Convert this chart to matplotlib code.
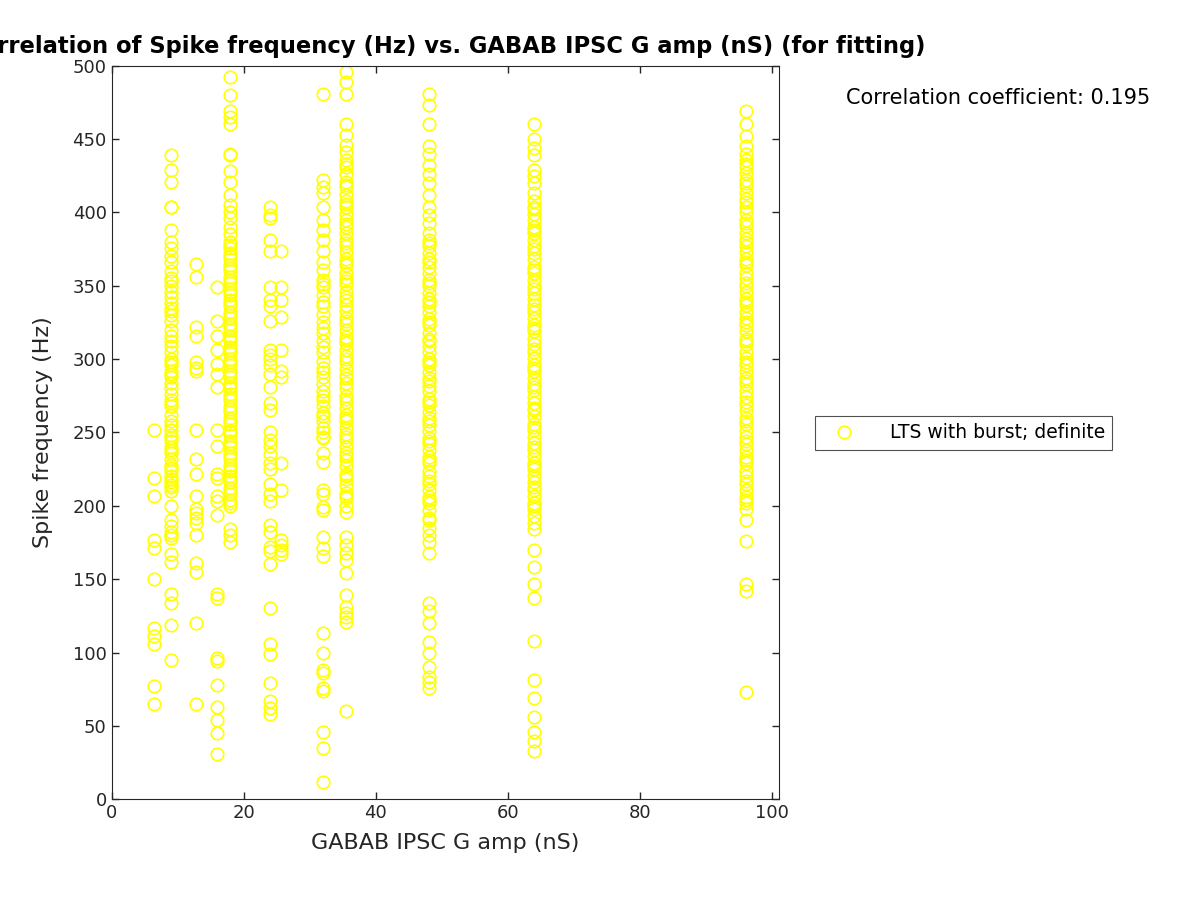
import matplotlib
matplotlib.use('Agg')
import matplotlib.pyplot as plt
import numpy as np

# GABAB IPSC G amp (nS) for each column, and spike frequencies (Hz)
g_amps = [6.4, 9.0, 12.8, 16.0, 17.9, 24.0, 25.6, 32.0, 35.5, 48.0, 64.0, 96.0]

freq_6 = [252, 219, 207, 177, 171, 150, 117, 111, 106, 77, 65]
freq_9 = [439, 429, 421, 404, 404, 388, 380, 376, 370, 366, 360, 355, 350, 346, 342, 338,
          335, 330, 326, 320, 316, 312, 305, 300, 296, 292, 288, 284, 280, 276, 272, 268,
          262, 258, 252, 248, 244, 240, 236, 232, 228, 224, 220, 216, 213, 210, 200, 190,
          186, 182, 180, 178, 167, 162, 140, 134, 119, 95,
          353, 333, 309, 298, 290, 270, 255, 246, 238, 226, 218, 214]
freq_13 = [365, 356, 322, 316, 298, 294, 292, 252, 232, 222, 207, 198, 195, 192, 188, 180,
           161, 155, 120, 65]
freq_16 = [349, 326, 316, 306, 297, 290, 281, 252, 241, 222, 219, 207, 203, 194, 140, 137,
           96, 94, 78, 63, 54, 45, 31]
freq_18 = [492, 480, 469, 465, 460, 440, 439, 428, 421, 412, 405, 400, 396, 390, 385, 380,
           376, 372, 368, 364, 360, 356, 352, 348, 344, 340, 336, 332, 328, 324, 320, 316,
           312, 308, 304, 300, 296, 292, 288, 284, 280, 276, 272, 268, 264, 260, 256, 252,
           248, 244, 240, 236, 232, 228, 224, 220, 216, 212, 208, 204, 200, 184, 180, 175,
           378, 370, 362, 354, 346, 338, 330, 322, 314, 306, 298, 290, 282, 274, 266, 258,
           250, 242, 234, 226, 218, 210, 202]
freq_24 = [404, 398, 396, 381, 374, 349, 340, 336, 326, 306, 303, 300, 296, 290, 281, 270,
           265, 250, 245, 241, 235, 229, 225, 215, 208, 203, 187, 182, 172, 169, 160, 130,
           106, 99, 79, 67, 62, 58]
freq_26 = [374, 349, 340, 329, 306, 292, 288, 229, 211, 177, 173, 170, 167]
freq_32 = [481, 422, 417, 413, 404, 395, 388, 381, 374, 366, 361, 354, 349, 344, 339, 331,
           325, 318, 312, 305, 299, 294, 288, 283, 278, 272, 268, 263, 258, 253, 247, 246,
           236, 230, 211, 208, 199, 197, 179, 171, 166, 113, 100, 88, 86, 76, 74, 46, 35, 12,
           351, 336, 321, 308, 291, 275, 261, 250]
freq_36 = [496, 489, 481, 460, 453, 446, 441, 436, 431, 426, 421, 417, 412, 408, 404, 399,
           395, 390, 386, 381, 377, 373, 368, 364, 359, 355, 351, 346, 342, 337, 333, 328,
           324, 320, 315, 311, 306, 302, 298, 293, 289, 284, 280, 275, 271, 267, 262, 258,
           253, 249, 245, 240, 236, 231, 227, 222, 218, 214, 209, 205, 200, 196, 179, 173,
           168, 163, 154, 139, 131, 127, 124, 121, 60,
           433, 419, 406, 392, 379, 366, 353, 340, 326, 313, 300, 287, 273, 260, 247, 234,
           220, 207]
freq_48 = [481, 473, 460, 445, 440, 432, 426, 420, 412, 404, 398, 393, 386, 381, 377, 372,
           368, 363, 359, 354, 350, 345, 341, 336, 332, 327, 323, 318, 314, 309, 305, 300,
           296, 291, 287, 282, 278, 273, 269, 264, 260, 255, 251, 246, 242, 238, 233, 229,
           224, 220, 215, 211, 206, 202, 197, 192, 185, 180, 175, 168, 134, 128, 120, 107,
           100, 90, 83, 80, 76,
           379, 366, 352, 339, 325, 312, 298, 285, 271, 258, 244, 231, 217, 204, 190]
freq_64 = [460, 450, 444, 439, 429, 425, 420, 413, 408, 404, 399, 395, 390, 386, 381, 377,
           372, 368, 363, 359, 354, 350, 345, 341, 337, 332, 328, 323, 319, 314, 310, 305,
           301, 296, 292, 287, 283, 279, 274, 270, 265, 261, 256, 252, 247, 243, 238, 234,
           229, 225, 220, 216, 211, 207, 202, 198, 193, 188, 184, 170, 158, 147, 137, 108,
           81, 69, 56, 46, 40, 33,
           402, 388, 375, 361, 348, 334, 321, 307, 294, 281, 267, 254, 240, 227, 213, 200]
freq_96 = [469, 460, 452, 445, 440, 436, 431, 427, 422, 418, 413, 409, 404, 400, 395, 391,
           386, 382, 377, 373, 368, 364, 359, 355, 350, 346, 341, 337, 332, 328, 323, 319,
           314, 310, 305, 301, 296, 292, 287, 283, 278, 274, 269, 265, 260, 256, 251, 247,
           242, 238, 233, 229, 224, 220, 215, 211, 206, 202, 198, 190, 176, 147, 142, 73,
           433, 420, 407, 393, 380, 366, 352, 339, 325, 312, 298, 285, 271, 258, 244, 231,
           217, 204]

all_freqs = [freq_6, freq_9, freq_13, freq_16, freq_18, freq_24, freq_26,
             freq_32, freq_36, freq_48, freq_64, freq_96]

xs = np.concatenate([[g] * len(f) for g, f in zip(g_amps, all_freqs)])
ys = np.concatenate(all_freqs)

fig = plt.figure(figsize=(12, 9), dpi=100)
ax = fig.add_axes([0.093, 0.112, 0.556, 0.815])

ax.plot(xs, ys, linestyle='none', marker='o', markersize=9, markerfacecolor='none',
        markeredgecolor='#FFFF00', markeredgewidth=1.2, label='LTS with burst; definite')

ax.set_xlim(0, 101)
ax.set_ylim(0, 500)
ax.set_xticks(np.arange(0, 101, 20))
ax.set_yticks(np.arange(0, 501, 50))
ax.tick_params(direction='in', top=True, right=True, labelsize=13, colors='#262626',
               length=5, width=1)
for s in ax.spines.values():
    s.set_color('#262626')

ax.set_xlabel('GABAB IPSC G amp (nS)', fontsize=16, color='#262626', labelpad=8)
ax.set_ylabel('Spike frequency (Hz)', fontsize=16, color='#262626', labelpad=14)
ax.set_title('Correlation of Spike frequency (Hz) vs. GABAB IPSC G amp (nS) (for fitting)',
             fontsize=16.3, fontweight='bold', pad=9)

fig.text(0.705, 0.885, 'Correlation coefficient: 0.195', fontsize=15, color='black')

leg = ax.legend(loc='center left', bbox_to_anchor=(0.671, 0.519), bbox_transform=fig.transFigure,
                fontsize=13.5, frameon=True, fancybox=False, edgecolor='#262626',
                borderpad=0.4, handletextpad=1.3, handlelength=2.3)
leg.get_frame().set_linewidth(0.8)

fig.savefig('out.png', dpi=100)
